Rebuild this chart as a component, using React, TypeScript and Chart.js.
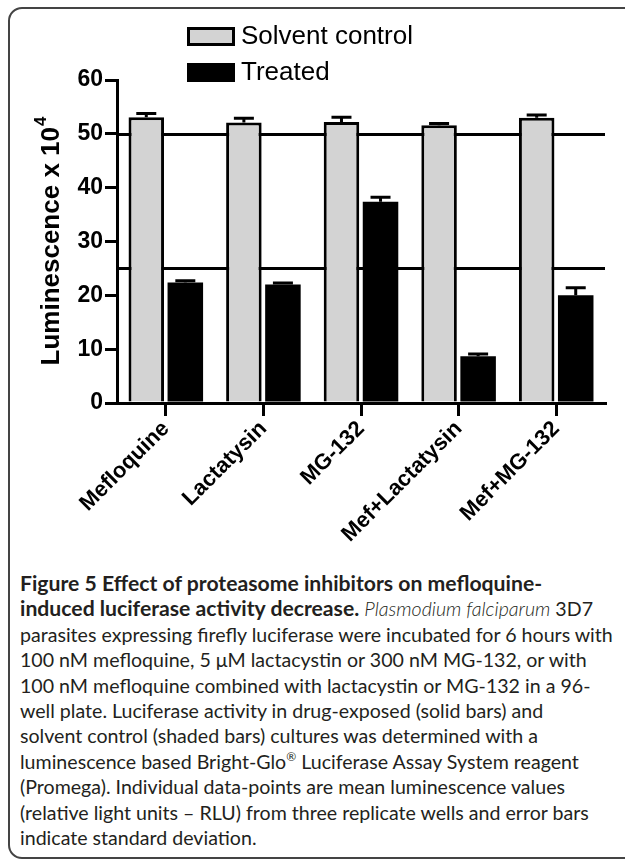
import React, { useEffect, useRef } from "react";
import { Chart, registerables } from "chart.js";

Chart.register(...registerables);

const categories = ["Mefloquine", "Lactatysin", "MG-132", "Mef+Lactatysin", "Mef+MG-132"];
const solventValues = [53.1, 52.1, 52.2, 51.6, 53.0];
const solventErrors = [0.7, 0.8, 0.9, 0.3, 0.5];
const treatedValues = [22.4, 22.0, 37.4, 8.7, 20.0];
const treatedErrors = [0.3, 0.3, 0.8, 0.4, 1.4];
const seriesLabels = ["Solvent control", "Treated"];
const referenceLines = [25, 50];
const yMin = 0;
const yMax = 60;
const yStep = 10;
const yTitle = "Luminescence x 10";
const yTitleExp = "4";

const FONT = "'Liberation Sans', Arial, sans-serif";
const CANVAS_W = 625;
const CANVAS_H = 560;

const refLinesPlugin = {
  id: "refLines",
  beforeDatasetsDraw(chart: any) {
    const { ctx, chartArea, scales } = chart;
    ctx.save();
    ctx.strokeStyle = "#000";
    ctx.lineWidth = 3;
    referenceLines.forEach((v) => {
      const py = Math.round(scales.y.getPixelForValue(v)) + 0.5;
      ctx.beginPath();
      ctx.moveTo(chartArea.left, py);
      ctx.lineTo(chartArea.right, py);
      ctx.stroke();
    });
    ctx.restore();
  },
};

const errorBarPlugin = {
  id: "errorBars",
  afterDatasetsDraw(chart: any) {
    const { ctx, scales } = chart;
    ctx.save();
    ctx.strokeStyle = "#000";
    ctx.lineWidth = 3;
    chart.data.datasets.forEach((ds: any, i: number) => {
      const meta = chart.getDatasetMeta(i);
      meta.data.forEach((bar: any, j: number) => {
        const v = ds.data[j];
        const e = ds.errors[j];
        const yTop = scales.y.getPixelForValue(v + e);
        const x = bar.x;
        ctx.beginPath();
        ctx.moveTo(x, bar.y);
        ctx.lineTo(x, yTop);
        ctx.moveTo(x - 10, yTop);
        ctx.lineTo(x + 10, yTop);
        ctx.stroke();
      });
    });
    ctx.restore();
  },
};

const legendPlugin = {
  id: "customLegend",
  afterDraw(chart: any) {
    const { ctx } = chart;
    ctx.save();
    const boxX = 187;
    const boxW = 48;
    const boxH = 19;
    const tops = [27, 63];
    chart.data.datasets.forEach((ds: any, i: number) => {
      const top = tops[i];
      ctx.fillStyle = ds.backgroundColor;
      ctx.fillRect(boxX, top, boxW, boxH);
      if (ds.borderWidth) {
        ctx.strokeStyle = "#000";
        ctx.lineWidth = 3;
        ctx.strokeRect(boxX + 1.5, top + 1.5, boxW - 3, boxH - 3);
      }
      ctx.fillStyle = "#000";
      ctx.font = `26px ${FONT}`;
      ctx.textAlign = "left";
      ctx.textBaseline = "middle";
      ctx.fillText(ds.label, boxX + boxW + 6, top + boxH / 2);
    });
    ctx.restore();
  },
};

const yTitlePlugin = {
  id: "yTitle",
  afterDraw(chart: any) {
    const { ctx } = chart;
    ctx.save();
    ctx.translate(52, 241);
    ctx.rotate(-Math.PI / 2);
    ctx.fillStyle = "#000";
    ctx.textBaseline = "middle";
    ctx.textAlign = "left";
    ctx.font = `bold 26px ${FONT}`;
    const w1 = ctx.measureText(yTitle).width;
    ctx.font = `bold 17px ${FONT}`;
    const w2 = ctx.measureText(yTitleExp).width;
    const start = -(w1 + w2 + 1) / 2;
    ctx.font = `bold 26px ${FONT}`;
    ctx.fillText(yTitle, start, 0);
    ctx.font = `bold 17px ${FONT}`;
    ctx.fillText(yTitleExp, start + w1 + 1, -11);
    ctx.restore();
  },
};

function BarChart() {
  const ref = useRef<HTMLCanvasElement>(null);
  useEffect(() => {
    if (!ref.current) return;
    const chart = new Chart(ref.current, {
      type: "bar",
      data: {
        labels: categories,
        datasets: [
          {
            label: seriesLabels[0],
            data: solventValues,
            errors: solventErrors,
            backgroundColor: "#d3d3d3",
            borderColor: "#000",
            borderWidth: 3,
            categoryPercentage: 0.8,
            barPercentage: 0.91,
          } as any,
          {
            label: seriesLabels[1],
            data: treatedValues,
            errors: treatedErrors,
            backgroundColor: "#000",
            borderWidth: 0,
            categoryPercentage: 0.8,
            barPercentage: 0.91,
          } as any,
        ],
      },
      options: {
        responsive: false,
        animation: false,
        devicePixelRatio: 1,
        layout: { padding: { top: 80, right: 20, left: 0, bottom: 0 } },
        plugins: {
          legend: { display: false },
          tooltip: { enabled: false },
          title: { display: false },
        },
        scales: {
          x: {
            grid: {
              offset: false,
              drawOnChartArea: false,
              drawTicks: true,
              tickLength: 13,
              color: "#000",
              lineWidth: 3,
            },
            border: { display: true, color: "#000", width: 3 },
            ticks: {
              color: "#000",
              font: { family: FONT, weight: "bold", size: 22 },
              minRotation: 45,
              maxRotation: 45,
              padding: 0,
              autoSkip: false,
            },
            afterFit: (s: any) => {
              s.height = CANVAS_H - 403;
            },
          },
          y: {
            min: yMin,
            max: yMax,
            ticks: {
              stepSize: yStep,
              color: "#000",
              font: { family: FONT, weight: "bold", size: 23 },
              padding: 2,
            },
            grid: {
              drawOnChartArea: false,
              drawTicks: true,
              tickLength: 12,
              color: "#000",
              lineWidth: 3,
            },
            border: { display: true, color: "#000", width: 3 },
            afterFit: (s: any) => {
              s.width = 117;
            },
          },
        },
      } as any,
      plugins: [refLinesPlugin, errorBarPlugin, legendPlugin, yTitlePlugin],
    });
    return () => chart.destroy();
  }, []);
  return (
    <canvas
      ref={ref}
      width={CANVAS_W}
      height={CANVAS_H}
      style={{ position: "absolute", left: 0, top: 0, width: CANVAS_W, height: CANVAS_H }}
    />
  );
}

const capFont = "Lato, 'Open Sans', sans-serif";
const lineStyle: React.CSSProperties = {
  whiteSpace: "nowrap",
  height: 25.4,
  lineHeight: "25.4px",
};

export default function App() {
  return (
    <div
      style={{
        position: "fixed",
        left: 0,
        top: 0,
        width: 625,
        height: 863,
        overflow: "hidden",
        background: "#fff",
      }}
    >
      <div
        style={{
          position: "absolute",
          left: 8,
          top: 7,
          width: 680,
          height: 852,
          border: "2px solid #444",
          borderRadius: 14,
          boxSizing: "border-box",
        }}
      />
      <BarChart />
      <div
        style={{
          position: "absolute",
          left: 20,
          top: 571,
          fontFamily: capFont,
          fontSize: 19.6,
          color: "#231f20",
        }}
      >
        <div style={{ ...lineStyle, fontWeight: 700, fontSize: 21.2 }}>
          Figure 5 Effect of proteasome inhibitors on mefloquine-
        </div>
        <div style={lineStyle}>
          <span style={{ fontWeight: 700, fontSize: 21.2 }}>induced luciferase activity decrease.</span>{" "}
          <span style={{ fontStyle: "italic", fontWeight: 300 }}>Plasmodium falciparum</span> 3D7
        </div>
        <div style={lineStyle}>parasites expressing firefly luciferase were incubated for 6 hours with</div>
        <div style={lineStyle}>100 nM mefloquine, 5 μM lactacystin or 300 nM MG-132, or with</div>
        <div style={lineStyle}>100 nM mefloquine combined with lactacystin or MG-132 in a 96-</div>
        <div style={lineStyle}>well plate. Luciferase activity in drug-exposed (solid bars) and</div>
        <div style={lineStyle}>solvent control (shaded bars) cultures was determined with a</div>
        <div style={lineStyle}>
          luminescence based Bright-Glo<sup style={{ fontSize: 12, lineHeight: 0 }}>®</sup> Luciferase Assay System reagent
        </div>
        <div style={lineStyle}>(Promega). Individual data-points are mean luminescence values</div>
        <div style={lineStyle}>(relative light units – RLU) from three replicate wells and error bars</div>
        <div style={lineStyle}>indicate standard deviation.</div>
      </div>
    </div>
  );
}
